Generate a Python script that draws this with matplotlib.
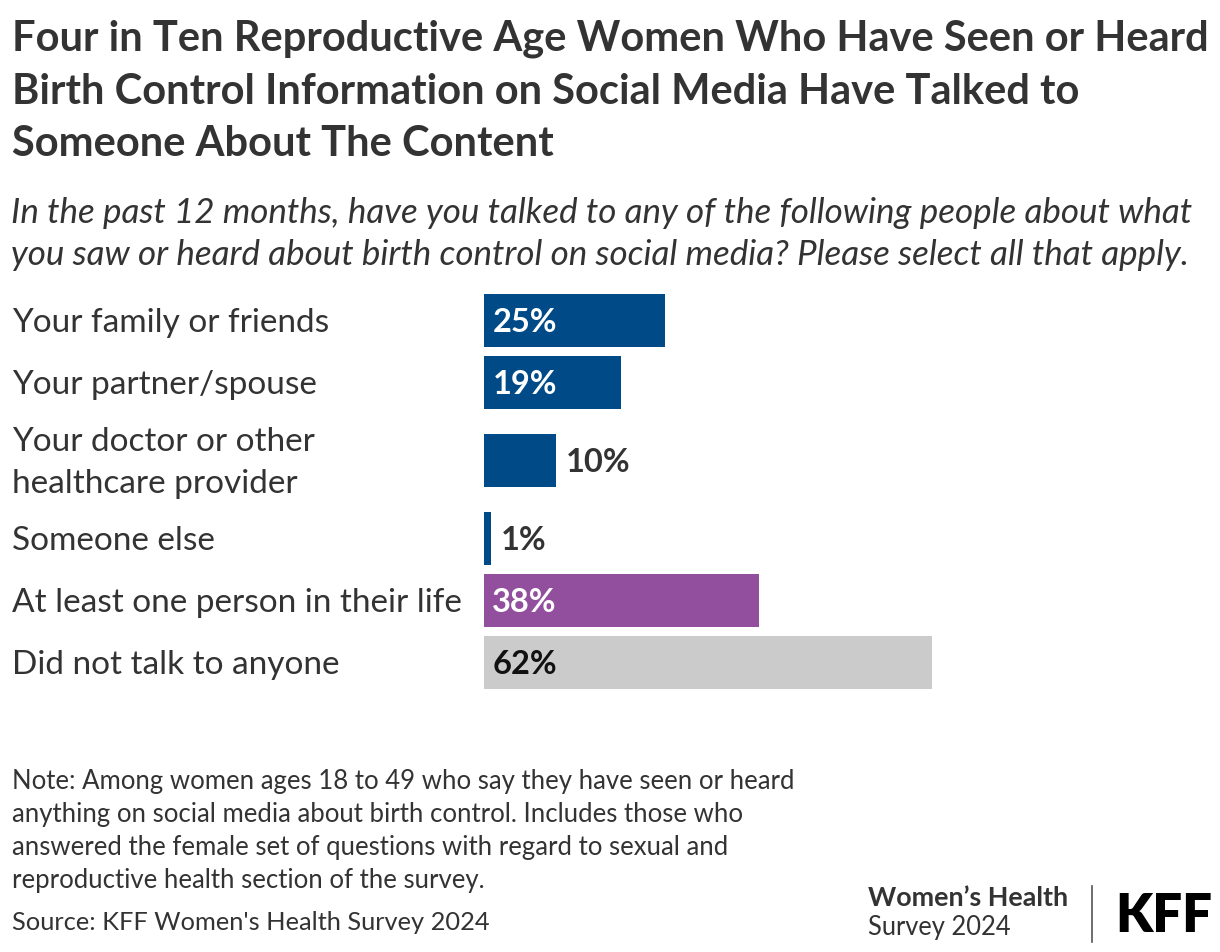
import matplotlib
import matplotlib.pyplot as plt
import matplotlib.transforms as mtransforms

matplotlib.use('Agg')

plt.rcParams['font.family'] = ['Lato', 'DejaVu Sans']

W, H = 1220, 952

TITLE_LINES = [
    'Four in Ten Reproductive Age Women Who Have Seen or Heard',
    'Birth Control Information on Social Media Have Talked to',
    'Someone About The Content',
]
SUBTITLE_LINES = [
    'In the past 12 months, have you talked to any of the following people about what',
    'you saw or heard about birth control on social media? Please select all that apply.',
]
CATEGORIES = [
    'Your family or friends',
    'Your partner/spouse',
    'Your doctor or other\nhealthcare provider',
    'Someone else',
    'At least one person in their life',
    'Did not talk to anyone',
]
VALUES = [25, 19, 10, 1, 38, 62]
BAR_COLORS = ['#004B87', '#004B87', '#004B87', '#004B87', '#924F9E', '#CBCBCB']
NOTE_LINES = [
    'Note: Among women ages 18 to 49 who say they have seen or heard',
    'anything on social media about birth control. Includes those who',
    'answered the female set of questions with regard to sexual and',
    'reproductive health section of the survey.',
]
SOURCE = "Source: KFF Women's Health Survey 2024"

TEXT = '#333333'


def fx(x):
    return x / W


def fy(y):
    return 1 - y / H


fig = plt.figure(figsize=(W / 100, H / 100), dpi=100, facecolor='white')

for i, line in enumerate(TITLE_LINES):
    fig.text(fx(12), fy(39 + 52.5 * i), line, fontsize=30, fontweight='bold',
             color=TEXT, va='center', ha='left')

for i, line in enumerate(SUBTITLE_LINES):
    fig.text(fx(11), fy(213 + 42 * i), line, fontsize=25.2, style='italic',
             color=TEXT, va='center', ha='left')

# bar rows: two-line labels get extra room
pitch = 62
extra = [16 * (c.count('\n')) for c in CATEGORIES]
centers = []
y = 320.5
for i in range(len(CATEGORIES)):
    if i > 0:
        y += pitch + extra[i - 1] + extra[i]
    centers.append(y)

ax_top, ax_bot = 280, 700
ax_left, ax_right = 484, 1207
ax = fig.add_axes([fx(ax_left), fy(ax_bot), (ax_right - ax_left) / W, (ax_bot - ax_top) / H])
ax.set_xlim(0, 100)
ax.set_ylim(ax_bot, ax_top)
ax.axis('off')

ax.barh(centers, VALUES, height=53, color=BAR_COLORS, left=0)

trans = mtransforms.blended_transform_factory(fig.transFigure, ax.transData)
for cat, yc in zip(CATEGORIES, centers):
    ax.text(fx(12), yc + 2, cat, transform=trans, fontsize=24, color=TEXT,
            va='center', ha='left', linespacing=1.5)

for val, yc, col in zip(VALUES, centers, BAR_COLORS):
    label = f'{val}%'
    if val >= 15:
        tc = 'white' if col != '#CBCBCB' else '#111111'
        ax.annotate(label, (0, yc + 2), xytext=(6, 0), textcoords='offset points',
                    fontsize=23.5, fontweight='bold', color=tc, va='center', ha='left')
    else:
        ax.annotate(label, (val, yc + 2), xytext=(7, 0), textcoords='offset points',
                    fontsize=23.5, fontweight='bold', color=TEXT, va='center', ha='left')

for i, line in enumerate(NOTE_LINES):
    fig.text(fx(12), fy(781 + 33.3 * i), line, fontsize=18.5, color=TEXT,
             va='center', ha='left')
fig.text(fx(12), fy(923), SOURCE, fontsize=18.3, color=TEXT, va='center', ha='left')

# logo block
fig.text(fx(868), fy(898), 'Women\u2019s Health', fontsize=19.4, fontweight='bold',
         color=TEXT, va='center', ha='left')
fig.text(fx(868), fy(928), 'Survey 2024', fontsize=18.4, color=TEXT, va='center', ha='left')
fig.add_artist(plt.Line2D([fx(1092), fx(1092)], [fy(886), fy(942)], color='#555555',
                          linewidth=1.2, transform=fig.transFigure))
fig.text(fx(1115), fy(917), 'KFF', fontsize=38, fontweight='heavy', color='black',
         va='center', ha='left')

fig.savefig('out.png', dpi=100, facecolor='white')
